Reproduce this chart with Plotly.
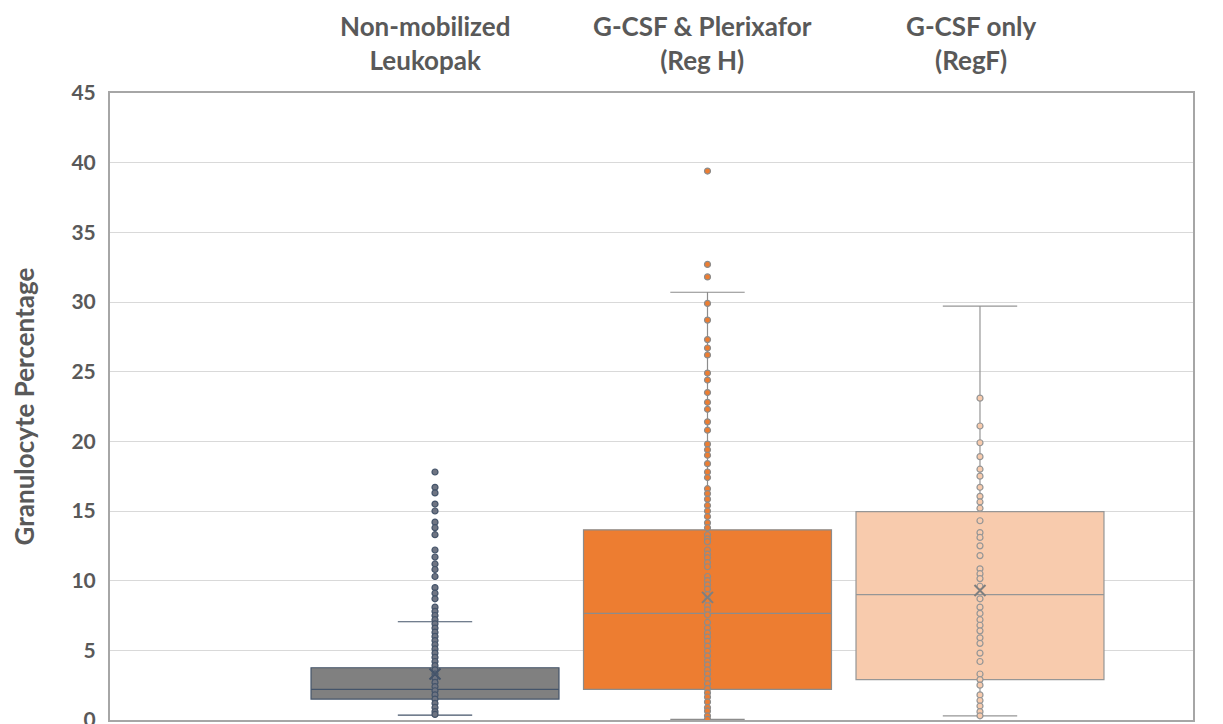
import plotly.graph_objects as go

# ---------------- data ----------------
groups = ["Non-mobilized<br>Leukopak", "G-CSF & Plerixafor<br>(Reg H)", "G-CSF only<br>(RegF)"]

nonmob_points = [17.8, 16.7, 16.3, 15.5, 15.0, 14.2, 13.8, 13.3, 12.2, 11.7, 11.2, 10.8, 10.3,
                 9.5, 9.1, 8.7, 8.1, 7.8, 7.5, 7.2, 6.9, 6.6, 6.3, 6.0, 5.7, 5.4, 5.1, 4.8,
                 4.5, 4.2, 3.9, 3.6, 3.3, 3.0, 2.7, 2.4, 2.1, 1.8, 1.5, 1.2, 0.9, 0.6, 0.4]
regh_points = [39.4, 32.7, 31.8, 29.9, 28.7, 27.3, 26.7, 26.2, 24.9, 24.4, 23.5, 22.8, 22.3,
               21.4, 20.8, 19.8, 19.4, 19.0, 18.4, 17.8, 17.4, 16.6, 16.25, 15.85, 15.4, 15.0,
               14.6, 14.15, 13.8, 13.3, 13.0, 12.8, 12.2, 11.9, 11.65, 11.3, 11.0, 10.3, 10.0,
               9.7, 9.4, 9.0, 8.6, 8.2, 7.9, 7.55, 7.0, 6.6, 6.25, 5.95, 5.65, 5.3, 4.95, 4.6,
               4.25, 3.95, 3.6, 3.3, 2.95, 2.6, 2.25, 1.95, 1.65, 1.3, 0.9, 0.65, 0.3, 0.05]
regf_points = [23.1, 21.1, 19.9, 18.9, 18.0, 17.5, 16.7, 16.05, 15.65, 15.2, 14.3, 13.45, 13.1,
               12.5, 11.8, 10.85, 10.5, 10.15, 9.6, 8.7, 8.1, 7.65, 7.2, 6.8, 6.4, 5.9, 5.5,
               4.8, 4.2, 3.3, 2.9, 2.5, 1.8, 1.4, 1.0, 0.6, 0.3]
all_points = [nonmob_points, regh_points, regf_points]

q1_vals = [1.5, 2.2, 2.9]
median_vals = [2.2, 7.65, 9.0]
q3_vals = [3.75, 13.65, 14.95]
lower_vals = [0.35, 0.05, 0.3]
upper_vals = [7.05, 30.7, 29.7]
mean_vals = [3.3, 8.8, 9.3]

y_ticks = [0, 5, 10, 15, 20, 25, 30, 35, 40, 45]
y_title = "Granulocyte Percentage"

# ---------------- styles ----------------
box_fill = ["#808080", "#ED7D31", "#F8CBAD"]
box_line = ["#44546A", "#8C8C8C", "#969696"]
pt_fill = ["#6E7482", "#ED7D31", "#F8CBAD"]
pt_line = ["#44546A", "#8C8C8C", "#969696"]
mean_col = ["#44546A", "#7F7F7F", "#7F7F7F"]
text_col = "#595959"
FONT = "Lato, 'Open Sans', sans-serif"

fig = go.Figure()
for i in range(3):
    fig.add_trace(go.Box(
        x=[i], q1=[q1_vals[i]], median=[median_vals[i]], q3=[q3_vals[i]],
        lowerfence=[lower_vals[i]], upperfence=[upper_vals[i]],
        width=0.91, whiskerwidth=0.3, fillcolor=box_fill[i],
        line=dict(color=box_line[i], width=1.2), boxpoints=False,
        hoverinfo="skip", showlegend=False))
for i in range(3):
    fig.add_trace(go.Scatter(
        x=[i] * len(all_points[i]), y=all_points[i], mode="markers",
        marker=dict(size=6, color=pt_fill[i], line=dict(color=pt_line[i], width=1.2)),
        showlegend=False, hoverinfo="y"))
    fig.add_trace(go.Scatter(
        x=[i], y=[mean_vals[i]], mode="markers",
        marker=dict(symbol="x-thin-open", size=11, color=mean_col[i],
                    line=dict(color=mean_col[i], width=2)),
        showlegend=False, hoverinfo="y"))

# group header labels
label_px = [-0.037, 0.983, 1.97]
for i in range(3):
    fig.add_annotation(x=label_px[i], xref="x", y=1.079, yref="paper", yanchor="middle",
                       text=groups[i], showarrow=False, align="center",
                       font=dict(family=FONT, size=26, color=text_col, weight="bold"))

fig.add_annotation(x=-0.0795, xref="paper", y=0.5, yref="paper", text=y_title,
                   textangle=-90, showarrow=False, xanchor="center", yanchor="middle",
                   borderpad=0,
                   font=dict(family=FONT, size=26, color=text_col, weight="bold"))

# the page body has an 8px margin, so the figure is sized/offset to compensate
fig.update_layout(
    width=1215, height=716,
    margin=dict(l=102, r=30, t=85, b=4, autoexpand=False),
    paper_bgcolor="white", plot_bgcolor="white",
    font=dict(family=FONT, color=text_col),
    xaxis=dict(range=[-1.1927, 2.7817], showgrid=False, zeroline=False,
               showticklabels=False, ticks="", showline=True, linecolor="#A6A6A6",
               linewidth=2, mirror=True, automargin=False),
    yaxis=dict(range=[0, 45], tickvals=y_ticks, showgrid=True, gridcolor="#D9D9D9",
               gridwidth=1, zeroline=False, showline=True, linecolor="#A6A6A6",
               linewidth=2, mirror=True, ticks="outside", ticklen=8,
               tickcolor="rgba(0,0,0,0)", ticklabeloverflow="allow", automargin=False,
               tickfont=dict(family=FONT, size=21, color=text_col, weight="bold")),
)

fig.write_html("out.html")
